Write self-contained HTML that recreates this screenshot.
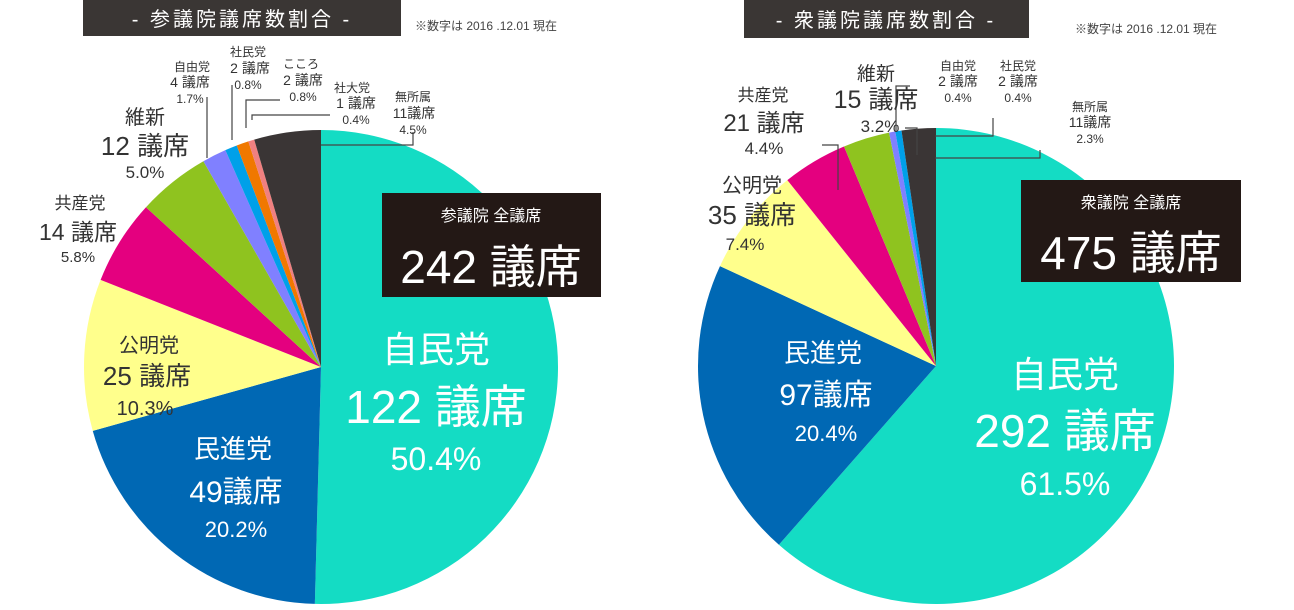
<!DOCTYPE html>
<html><head><meta charset="utf-8">
<style>
body{margin:0;background:#fff;width:1294px;height:610px;overflow:hidden;font-family:"Liberation Sans","Noto Sans CJK JP",sans-serif}
svg{position:absolute;left:0;top:0}
text{font-family:"Liberation Sans Narrow","Liberation Sans","Noto Sans CJK JP",sans-serif}
</style></head><body>
<svg id="s" width="1294" height="610" viewBox="0 0 1294 610">
<rect x="83" y="0" width="318" height="36" fill="#3a3634"/>
<text x="242" y="26" fill="#fff" font-size="20" text-anchor="middle" letter-spacing="3">- 参議院議席数割合 -</text>
<text x="415" y="30" fill="#444" font-size="12">※数字は 2016 .12.01 現在</text>
<rect x="744" y="0" width="285" height="38" fill="#3a3634"/>
<text x="886" y="27" fill="#fff" font-size="20" text-anchor="middle" letter-spacing="3">- 衆議院議席数割合 -</text>
<text x="1075" y="33" fill="#444" font-size="12">※数字は 2016 .12.01 現在</text>
<g id="p1"></g><g id="p2"></g>
<g fill="none" stroke="#444" stroke-width="1.2">
<polyline points="321,145 413,145 413,132"/>
<polyline points="252,120 252,115 330,115"/>
<polyline points="246,128 246,100 280,100"/>
<polyline points="232,140 232,85"/>
<polyline points="207,158 207,97"/>
<polyline points="935,158 1040,158 1040,150"/>
<polyline points="935,136 993,136 993,118"/>
<polyline points="896,132 896,86 910,86"/>
<polyline points="917,155 917,128 905,128"/>
<polyline points="838,190 838,145 822,145"/>
</g>
<rect x="382" y="193" width="219" height="104" fill="#231815"/>
<text x="491" y="221" fill="#fff" font-size="16" text-anchor="middle">参議院 全議席</text>
<text x="491" y="283" fill="#fff" font-size="46" text-anchor="middle">242 議席</text>
<rect x="1021" y="180" width="220" height="102" fill="#231815"/>
<text x="1131" y="208" fill="#fff" font-size="16" text-anchor="middle">衆議院 全議席</text>
<text x="1131" y="269" fill="#fff" font-size="46" text-anchor="middle">475 議席</text>
<g fill="#fff" text-anchor="middle">
<text x="436" y="362" font-size="36">自民党</text>
<text x="436" y="423" font-size="46">122 議席</text>
<text x="436" y="470" font-size="32">50.4%</text>
<text x="233" y="458" font-size="26">民進党</text>
<text x="236" y="502" font-size="30">49議席</text>
<text x="236" y="537" font-size="22">20.2%</text>
<text x="1065" y="387" font-size="36">自民党</text>
<text x="1065" y="447" font-size="46">292 議席</text>
<text x="1065" y="495" font-size="32">61.5%</text>
<text x="823" y="362" font-size="26">民進党</text>
<text x="826" y="405" font-size="30">97議席</text>
<text x="826" y="441" font-size="22">20.4%</text>
</g>
<g fill="#333" text-anchor="middle">
<text x="149" y="352" font-size="20">公明党</text>
<text x="147" y="385" font-size="26">25 議席</text>
<text x="145" y="415" font-size="20">10.3%</text>
<text x="80" y="209" font-size="17">共産党</text>
<text x="78" y="240" font-size="23">14 議席</text>
<text x="78" y="262" font-size="15">5.8%</text>
<text x="145" y="124" font-size="20">維新</text>
<text x="145" y="155" font-size="26">12 議席</text>
<text x="145" y="178" font-size="17">5.0%</text>
<text x="192" y="71" font-size="12">自由党</text>
<text x="190" y="87" font-size="14">4 議席</text>
<text x="190" y="103" font-size="12">1.7%</text>
<text x="248" y="56" font-size="12">社民党</text>
<text x="250" y="73" font-size="14">2 議席</text>
<text x="248" y="89" font-size="12">0.8%</text>
<text x="301" y="68" font-size="12">こころ</text>
<text x="303" y="85" font-size="14">2 議席</text>
<text x="303" y="101" font-size="12">0.8%</text>
<text x="352" y="92" font-size="12">社大党</text>
<text x="356" y="108" font-size="14">1 議席</text>
<text x="356" y="124" font-size="12">0.4%</text>
<text x="413" y="101" font-size="12">無所属</text>
<text x="414" y="118" font-size="14">11議席</text>
<text x="413" y="134" font-size="12">4.5%</text>
<text x="752" y="192" font-size="20">公明党</text>
<text x="752" y="224" font-size="26">35 議席</text>
<text x="745" y="250" font-size="17">7.4%</text>
<text x="763" y="101" font-size="17">共産党</text>
<text x="764" y="131" font-size="24">21 議席</text>
<text x="764" y="154" font-size="17">4.4%</text>
<text x="876" y="80" font-size="19">維新</text>
<text x="876" y="108" font-size="25">15 議席</text>
<text x="880" y="132" font-size="17">3.2%</text>
<text x="958" y="70" font-size="12">自由党</text>
<text x="958" y="86" font-size="14">2 議席</text>
<text x="958" y="102" font-size="12">0.4%</text>
<text x="1018" y="70" font-size="12">社民党</text>
<text x="1018" y="86" font-size="14">2 議席</text>
<text x="1018" y="102" font-size="12">0.4%</text>
<text x="1090" y="111" font-size="12">無所属</text>
<text x="1090" y="127" font-size="14">11議席</text>
<text x="1090" y="143" font-size="12">2.3%</text>
</g>
</svg>
<script>
function pie(id,cx,cy,r,data){
 var tot=data.reduce(function(a,b){return a+b[0]},0),a=0,g=document.getElementById(id),h='';
 data.forEach(function(d){
  var a0=a/tot*2*Math.PI,a1=(a+d[0])/tot*2*Math.PI;a+=d[0];
  var x0=cx+r*Math.sin(a0),y0=cy-r*Math.cos(a0),x1=cx+r*Math.sin(a1),y1=cy-r*Math.cos(a1);
  h+='<path d="M'+cx+','+cy+' L'+x0+','+y0+' A'+r+','+r+' 0 '+((a1-a0)>Math.PI?1:0)+' 1 '+x1+','+y1+' Z" fill="'+d[1]+'"/>';
 });
 g.innerHTML=h;
}
pie('p1',321,367,237,[[122,'#14dcc4'],[49,'#0068b4'],[25,'#ffff8c'],[14,'#e4007f'],[12,'#8fc31f'],[4,'#8080ff'],[2,'#00a0e9'],[2,'#f07800'],[1,'#f08080'],[11,'#3a3535']]);
pie('p2',936,366,238,[[292,'#14dcc4'],[97,'#0068b4'],[35,'#ffff8c'],[21,'#e4007f'],[15,'#8fc31f'],[2,'#8080ff'],[2,'#00a0e9'],[11,'#3a3535']]);
</script>
</body></html>
